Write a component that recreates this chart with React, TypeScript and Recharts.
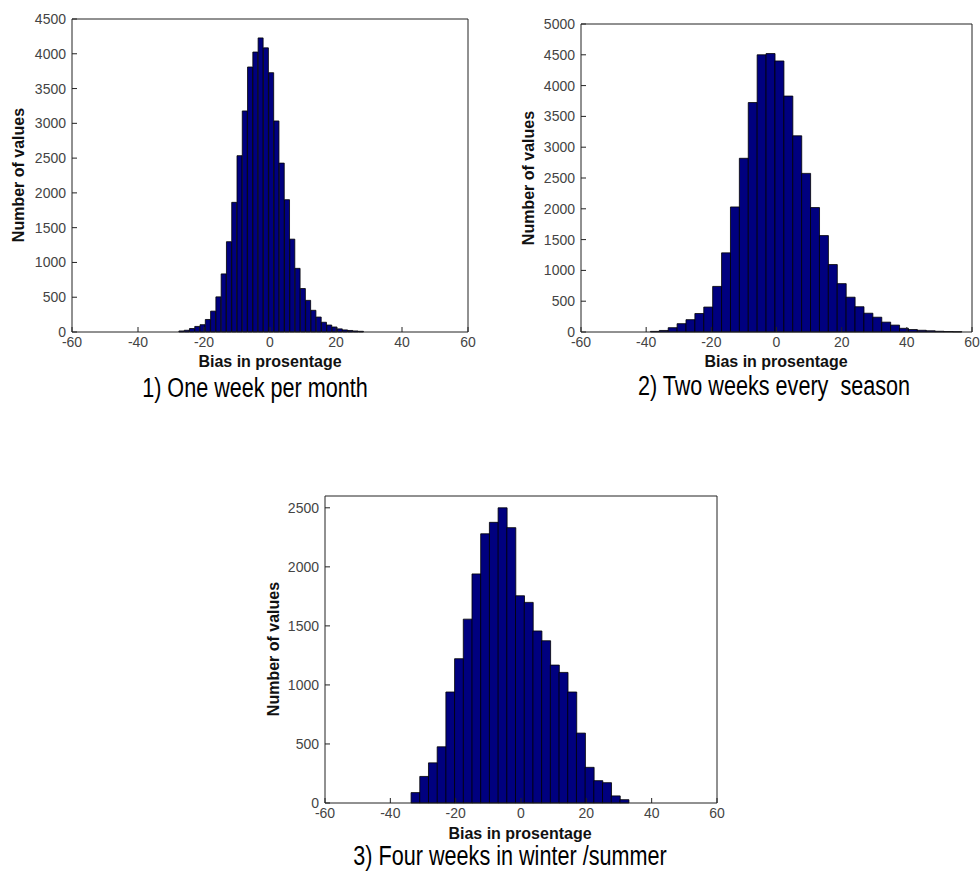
import { BarChart, Bar, XAxis, YAxis } from 'recharts';

const xTicks = [-60, -40, -20, 0, 20, 40, 60];

// 1) One week per month
const monthBins = [
  -26.8, -25.2, -23.6, -22.0, -20.4, -18.8, -17.2, -15.6, -14.0, -12.4, -10.8, -9.2,
  -7.6, -6.0, -4.4, -2.8, -1.2, 0.4, 2.0, 3.6, 5.2, 6.8, 8.4, 10.0, 11.6, 13.2, 14.8,
  16.4, 18.0, 19.6, 21.2, 22.8, 24.4, 26.0, 27.6,
];
const monthCounts = [
  15, 25, 50, 80, 105, 180, 300, 505, 835, 1298, 1864, 2535, 3178, 3810, 4025, 4228,
  4085, 3728, 3034, 2428, 1902, 1335, 915, 625, 455, 312, 215, 140, 100, 72, 45, 30,
  22, 15, 10,
];
const monthYTicks = [0, 500, 1000, 1500, 2000, 2500, 3000, 3500, 4000, 4500];

// 2) Two weeks every season
const seasonBins = [
  -37.335, -34.605, -31.875, -29.145, -26.415, -23.685, -20.955, -18.225, -15.495,
  -12.765, -10.035, -7.305, -4.575, -1.845, 0.885, 3.615, 6.345, 9.075, 11.805, 14.535,
  17.265, 19.995, 22.725, 25.455, 28.185, 30.915, 33.645, 36.375, 39.105, 41.835,
  44.565, 47.295, 50.025, 52.755, 55.485,
];
const seasonCounts = [
  10, 25, 70, 135, 200, 300, 405, 740, 1285, 2030, 2820, 3725, 4500, 4520, 4400, 3830,
  3185, 2575, 2020, 1565, 1095, 785, 565, 410, 305, 240, 160, 112, 60, 40, 28, 20, 12,
  8, 5,
];
const seasonYTicks = [0, 500, 1000, 1500, 2000, 2500, 3000, 3500, 4000, 4500, 5000];

// 3) Four weeks in winter /summer
const winterBins = [
  -32.318, -29.654, -26.99, -24.326, -21.662, -18.998, -16.334, -13.67, -11.006, -8.342,
  -5.678, -3.014, -0.35, 2.314, 4.978, 7.642, 10.306, 12.97, 15.634, 18.298, 20.962,
  23.626, 26.29, 28.954, 31.618,
];
const winterCounts = [
  88, 225, 340, 476, 940, 1222, 1557, 1940, 2280, 2377, 2500, 2332, 1755, 1699, 1457,
  1374, 1168, 1106, 940, 592, 302, 189, 172, 60, 28,
];
const winterYTicks = [0, 500, 1000, 1500, 2000, 2500];

const FONT = "'Liberation Sans', Arial, Helvetica, sans-serif";
const tickStyle = { fontSize: 14, fill: '#444', fontFamily: FONT };

interface HistProps {
  bins: number[];
  counts: number[];
  yTicks: number[];
  yMax: number;
  left: number;
  top: number;
  margin: { top: number; right: number; left: number; bottom: number };
}

function Histogram({ bins, counts, yTicks, yMax, left, top, margin }: HistProps) {
  const data = bins.map((x, i) => ({ x, n: counts[i] }));
  return (
    <div style={{ position: 'absolute', left, top }}>
      <BarChart width={480} height={361} data={data} margin={margin} barCategoryGap={0} barGap={0}>
        <XAxis
          dataKey="x"
          type="number"
          domain={[-60, 60]}
          ticks={xTicks}
          height={28}
          tickSize={-5}
          tickMargin={10}
          stroke="#222"
          tick={tickStyle}
          interval={0}
        />
        {/* box on: mirrored axes give the top and right frame with inward ticks */}
        <XAxis
          xAxisId="top"
          orientation="top"
          type="number"
          domain={[-60, 60]}
          ticks={xTicks}
          height={1}
          tickSize={-5}
          tick={false}
          stroke="#222"
        />
        <YAxis
          type="number"
          domain={[0, yMax]}
          ticks={yTicks}
          width={60}
          tickSize={-5}
          tickMargin={11}
          stroke="#222"
          tick={tickStyle}
          interval={0}
        />
        <YAxis
          yAxisId="right"
          orientation="right"
          type="number"
          domain={[0, yMax]}
          ticks={yTicks}
          width={1}
          tickSize={-5}
          tick={false}
          stroke="#222"
        />
        <Bar dataKey="n" fill="#00007f" stroke="#000" strokeWidth={0.8} isAnimationActive={false} />
      </BarChart>
    </div>
  );
}

const axisTitle = {
  position: 'absolute' as const,
  fontFamily: FONT,
  fontWeight: 'bold' as const,
  fontSize: 16,
  lineHeight: '16px',
  color: '#111',
  width: 240,
  textAlign: 'center' as const,
  whiteSpace: 'nowrap' as const,
};

const captionStyle = {
  position: 'absolute' as const,
  fontFamily: FONT,
  fontSize: 27,
  lineHeight: '20px',
  color: '#000',
  width: 500,
  textAlign: 'center' as const,
  whiteSpace: 'pre' as const,
};

function XTitle({ cx, top }: { cx: number; top: number }) {
  return <div style={{ ...axisTitle, left: cx - 120, top }}>Bias in prosentage</div>;
}

function YTitle({ cx, cy }: { cx: number; cy: number }) {
  return (
    <div style={{ ...axisTitle, left: cx - 120, top: cy - 8, transform: 'rotate(-90deg)' }}>
      Number of values
    </div>
  );
}

function Caption({ cx, top, text }: { cx: number; top: number; text: string }) {
  return (
    <div style={{ ...captionStyle, left: cx - 250, top, transform: 'scaleX(0.8)' }}>{text}</div>
  );
}

export default function App() {
  return (
    <div style={{ position: 'absolute', left: 0, top: 0, width: 980, height: 872, background: '#fff' }}>
      <Histogram
        bins={monthBins}
        counts={monthCounts}
        yTicks={monthYTicks}
        yMax={4500}
        left={0}
        top={0}
        margin={{ top: 18, right: 11, left: 12, bottom: 1 }}
      />
      <Histogram
        bins={seasonBins}
        counts={seasonCounts}
        yTicks={seasonYTicks}
        yMax={5000}
        left={500}
        top={0}
        margin={{ top: 23, right: 7, left: 21, bottom: 1 }}
      />
      <Histogram
        bins={winterBins}
        counts={winterCounts}
        yTicks={winterYTicks}
        yMax={2600}
        left={250}
        top={470}
        margin={{ top: 25, right: 12, left: 15, bottom: 0 }}
      />

      <XTitle cx={270} top={354} />
      <XTitle cx={776} top={354} />
      <XTitle cx={520} top={826} />

      <YTitle cx={19} cy={175} />
      <YTitle cx={529} cy={178} />
      <YTitle cx={274} cy={649} />

      <Caption cx={255} top={378} text="1) One week per month" />
      <Caption cx={774} top={376} text="2) Two weeks every  season" />
      <Caption cx={510} top={846} text="3) Four weeks in winter /summer" />
    </div>
  );
}
